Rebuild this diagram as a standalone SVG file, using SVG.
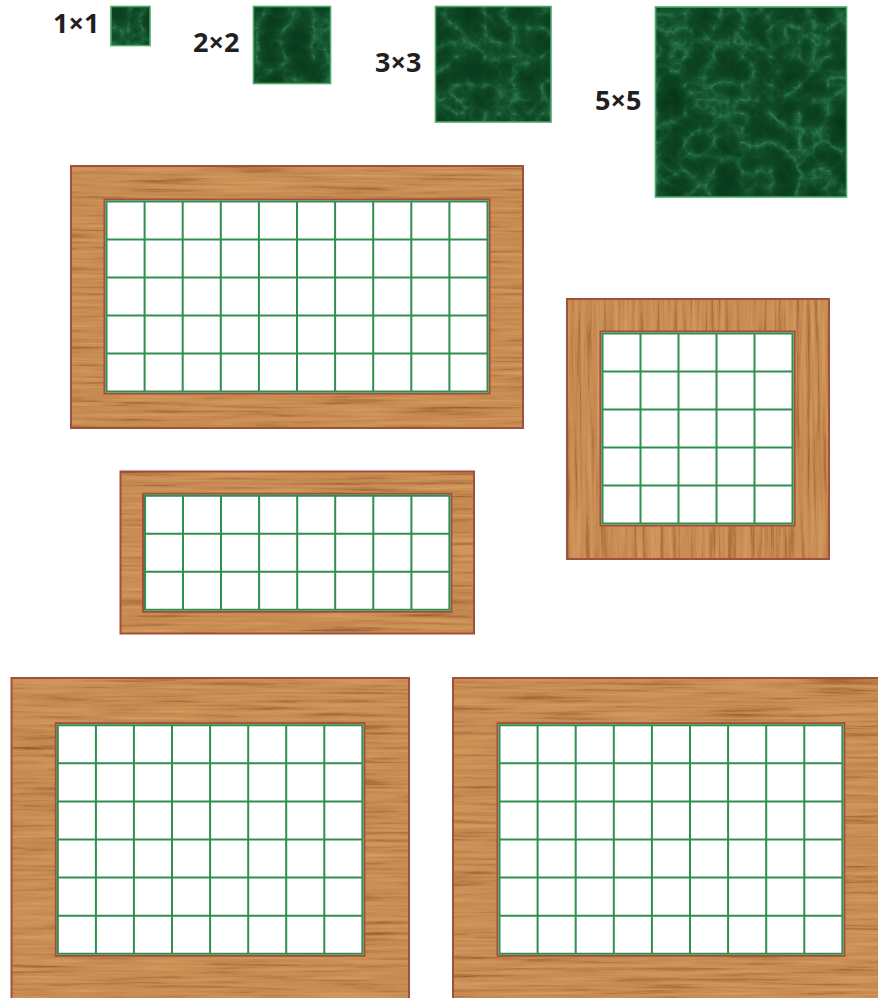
<svg xmlns="http://www.w3.org/2000/svg" width="878" height="998" viewBox="0 0 878 998">
<style>
.lbl{font-family:"Open Sans","Liberation Sans",sans-serif;font-weight:700;font-size:27px;fill:#231f20}
.tile{stroke:#4aa866;stroke-width:1.6;fill:none}
.frame{stroke:#a0503c;stroke-width:2;fill:none}
.inner{fill:#ffffff;stroke:#a0503c;stroke-width:2}
.grid{fill:none;stroke:#2f8f4e;stroke-width:2}
.marble{filter:url(#marble)}
.woodh{filter:url(#woodH)}
.woodv{filter:url(#woodV)}
</style>
<defs>
<filter id="marble" filterUnits="objectBoundingBox" x="0" y="0" width="1" height="1" color-interpolation-filters="sRGB">
<feTurbulence type="turbulence" baseFrequency="0.035" numOctaves="6" seed="7" result="t"/>
<feColorMatrix in="t" type="matrix" values="1 0 0 0 0  1 0 0 0 0  1 0 0 0 0  0 0 0 0 1" result="g"/>
<feComponentTransfer in="g">
<feFuncR type="table" tableValues="0.20 0.10 0.06 0.05 0.04 0.03 0.03"/>
<feFuncG type="table" tableValues="0.52 0.36 0.29 0.26 0.24 0.22 0.20"/>
<feFuncB type="table" tableValues="0.34 0.21 0.15 0.13 0.12 0.11 0.10"/>
<feFuncA type="linear" slope="0" intercept="1"/>
</feComponentTransfer>
</filter>
<filter id="woodH" filterUnits="objectBoundingBox" x="0" y="0" width="1" height="1" color-interpolation-filters="sRGB">
<feTurbulence type="fractalNoise" baseFrequency="0.01 0.28" numOctaves="5" seed="3" result="t"/>
<feColorMatrix in="t" type="matrix" values="1 0 0 0 0  1 0 0 0 0  1 0 0 0 0  0 0 0 0 1" result="g"/>
<feComponentTransfer in="g">
<feFuncR type="table" tableValues="0.50 0.66 0.77 0.80 0.83 0.86"/>
<feFuncG type="table" tableValues="0.30 0.43 0.53 0.57 0.60 0.63"/>
<feFuncB type="table" tableValues="0.14 0.23 0.31 0.34 0.37 0.40"/>
<feFuncA type="linear" slope="0" intercept="1"/>
</feComponentTransfer>
</filter>
<filter id="woodV" filterUnits="objectBoundingBox" x="0" y="0" width="1" height="1" color-interpolation-filters="sRGB">
<feTurbulence type="fractalNoise" baseFrequency="0.28 0.01" numOctaves="5" seed="11" result="t"/>
<feColorMatrix in="t" type="matrix" values="1 0 0 0 0  1 0 0 0 0  1 0 0 0 0  0 0 0 0 1" result="g"/>
<feComponentTransfer in="g">
<feFuncR type="table" tableValues="0.50 0.66 0.77 0.80 0.83 0.86"/>
<feFuncG type="table" tableValues="0.30 0.43 0.53 0.57 0.60 0.63"/>
<feFuncB type="table" tableValues="0.14 0.23 0.31 0.34 0.37 0.40"/>
<feFuncA type="linear" slope="0" intercept="1"/>
</feComponentTransfer>
</filter>
</defs>
<rect width="878" height="998" fill="#ffffff"/>

<g id="tile-1x1">
<text class="lbl" x="53" y="33">1×1</text>
<rect class="marble" x="111" y="6.5" width="39" height="39" fill="#000"/>
<rect class="tile" x="111" y="6.5" width="39" height="39"/>
</g>
<g id="tile-2x2">
<text class="lbl" x="193" y="52">2×2</text>
<rect class="marble" x="253.5" y="6.5" width="77" height="77" fill="#000"/>
<rect class="tile" x="253.5" y="6.5" width="77" height="77"/>
</g>
<g id="tile-3x3">
<text class="lbl" x="375" y="72">3×3</text>
<rect class="marble" x="435.5" y="6.5" width="115.5" height="115.5" fill="#000"/>
<rect class="tile" x="435.5" y="6.5" width="115.5" height="115.5"/>
</g>
<g id="tile-5x5">
<text class="lbl" x="595" y="110">5×5</text>
<rect class="marble" x="655.5" y="7" width="191" height="190" fill="#000"/>
<rect class="tile" x="655.5" y="7" width="191" height="190"/>
</g>

<g id="frame-10x5">
<rect class="woodh" x="71" y="166" width="452" height="262" fill="#000"/>
<rect class="frame" x="71" y="166" width="452" height="262"/>
<rect class="inner" x="104.5" y="199.5" width="385" height="194"/>
<path class="grid" d="M106.5 201.5H487.5V391.5H106.5Z M144.6 201.5V391.5 M182.7 201.5V391.5 M220.8 201.5V391.5 M258.9 201.5V391.5 M297 201.5V391.5 M335.1 201.5V391.5 M373.2 201.5V391.5 M411.3 201.5V391.5 M449.4 201.5V391.5 M106.5 239.5H487.5 M106.5 277.5H487.5 M106.5 315.5H487.5 M106.5 353.5H487.5"/>
</g>

<g id="frame-5x5">
<rect class="woodv" x="567" y="299" width="262" height="260" fill="#000"/>
<rect class="frame" x="567" y="299" width="262" height="260"/>
<rect class="inner" x="600.5" y="331.5" width="194" height="194"/>
<path class="grid" d="M602.5 333.5H792.5V523.5H602.5Z M640.5 333.5V523.5 M678.5 333.5V523.5 M716.5 333.5V523.5 M754.5 333.5V523.5 M602.5 371.5H792.5 M602.5 409.5H792.5 M602.5 447.5H792.5 M602.5 485.5H792.5"/>
</g>

<g id="frame-8x3">
<rect class="woodh" x="120.5" y="471.5" width="353.5" height="162" fill="#000"/>
<rect class="frame" x="120.5" y="471.5" width="353.5" height="162"/>
<rect class="inner" x="143" y="493.8" width="308.4" height="118"/>
<path class="grid" d="M145 495.8H449.4V609.8H145Z M183 495.8V609.8 M221 495.8V609.8 M259.1 495.8V609.8 M297.2 495.8V609.8 M335.2 495.8V609.8 M373.3 495.8V609.8 M411.4 495.8V609.8 M145 533.8H449.4 M145 571.8H449.4"/>
</g>

<g id="frame-8x6">
<rect class="woodh" x="11.5" y="678" width="397.5" height="330" fill="#000"/>
<rect class="frame" x="11.5" y="678" width="397.5" height="330"/>
<rect class="inner" x="55.8" y="723.2" width="308.6" height="232.6"/>
<path class="grid" d="M57.8 725.2H362.4V953.8H57.8Z M95.9 725.2V953.8 M133.9 725.2V953.8 M172 725.2V953.8 M210.1 725.2V953.8 M248.2 725.2V953.8 M286.2 725.2V953.8 M324.3 725.2V953.8 M57.8 763.3H362.4 M57.8 801.4H362.4 M57.8 839.5H362.4 M57.8 877.6H362.4 M57.8 915.7H362.4"/>
</g>

<g id="frame-9x6">
<rect class="woodh" x="453" y="678" width="440" height="330" fill="#000"/>
<rect class="frame" x="453" y="678" width="440" height="330"/>
<rect class="inner" x="497.5" y="723.2" width="346.9" height="232.6"/>
<path class="grid" d="M499.5 725.2H842.4V953.8H499.5Z M537.6 725.2V953.8 M575.7 725.2V953.8 M613.8 725.2V953.8 M651.9 725.2V953.8 M690 725.2V953.8 M728.1 725.2V953.8 M766.2 725.2V953.8 M804.3 725.2V953.8 M499.5 763.3H842.4 M499.5 801.4H842.4 M499.5 839.5H842.4 M499.5 877.6H842.4 M499.5 915.7H842.4"/>
</g>
</svg>
